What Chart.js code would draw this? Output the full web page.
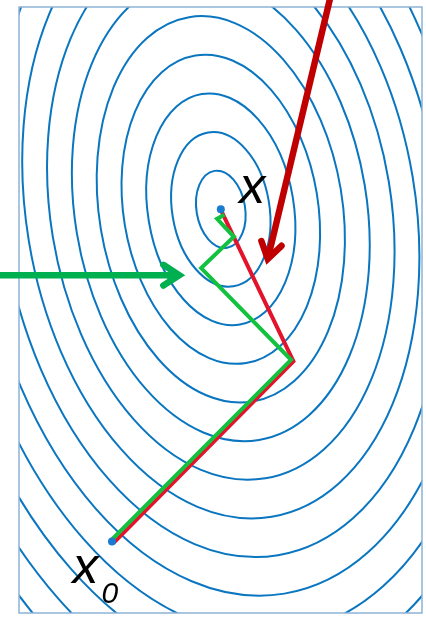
<!DOCTYPE html>
<html>
<head>
<meta charset="utf-8">
<script src="https://cdn.jsdelivr.net/npm/chart.js@4/dist/chart.umd.min.js"></script>
<style>
  html, body { margin: 0; padding: 0; background: #fff; overflow: hidden; }
  canvas { display: block; }
</style>
</head>
<body>
<canvas id="c" width="426" height="617"></canvas>
<script>
// Quadratic bowl: level sets are tilted, concentric ellipses about the minimiser
const minimiser = [2.003, 3.997];
const contourLevels = [1, 2, 3, 4, 5, 6, 7, 8, 9, 10, 11, 12, 13, 14, 15];
const semiMinorPerLevel = 0.2414;
const semiMajorPerLevel = 0.3857;
const tiltDegrees = 9.4; // major axis leans left at the top

// Steepest-descent iterates (zig-zag)
const sdX = [0.916, 2.700, 1.808, 2.133, 1.966, 2.039];
const sdY = [0.720, 2.507, 3.415, 3.725, 3.903, 3.943];

// Conjugate-gradient iterates (two steps)
const cgX = [0.941, 2.724, 2.003];
const cgY = [0.696, 2.492, 3.992];

// Start point x0 and solution x
const markerX = [0.923, 2.003];
const markerY = [0.708, 3.997];

// Pointer arrows: [tail, head] in plot units
const greenArrowX = [-0.25, 1.591];
const greenArrowY = [3.345, 3.345];
const redArrowX = [3.098, 2.469];
const redArrowY = [6.128, 3.506];

// Labels anchored at their baseline-left corner
const labelText = ['x', 'x', '0'];
const labelX = [2.187, 0.532, 0.818];
const labelY = [4.055, 0.296, 0.099];

const toPoints = (xs, ys) => xs.map((v, i) => ({ x: v, y: ys[i] }));

const contourPlugin = {
  id: 'contours',
  beforeDatasetsDraw(chart) {
    const { ctx, chartArea: a, scales: { x, y } } = chart;
    const cx = x.getPixelForValue(minimiser[0]);
    const cy = y.getPixelForValue(minimiser[1]);
    const ux = Math.abs(x.getPixelForValue(1) - x.getPixelForValue(0));
    const uy = Math.abs(y.getPixelForValue(1) - y.getPixelForValue(0));
    ctx.save();
    ctx.beginPath();
    ctx.rect(a.left, a.top, a.right - a.left, a.bottom - a.top);
    ctx.clip();
    ctx.strokeStyle = '#0a76c0';
    ctx.lineWidth = 2;
    for (const k of contourLevels) {
      ctx.beginPath();
      ctx.ellipse(cx, cy, k * semiMinorPerLevel * ux, k * semiMajorPerLevel * uy,
                  -tiltDegrees * Math.PI / 180, 0, 2 * Math.PI);
      ctx.stroke();
    }
    ctx.restore();
    ctx.save();
    ctx.strokeStyle = '#8db3d6';
    ctx.lineWidth = 1.5;
    ctx.strokeRect(a.left, a.top, a.right - a.left, a.bottom - a.top);
    ctx.restore();
  }
};

function drawArrow(ctx, x0, y0, x1, y1, color) {
  const ang = Math.atan2(y1 - y0, x1 - x0);
  const L = 19, spread = 33 * Math.PI / 180;
  ctx.save();
  ctx.strokeStyle = color;
  ctx.lineWidth = 6.5;
  ctx.lineCap = 'butt';
  ctx.beginPath();
  ctx.moveTo(x0, y0);
  ctx.lineTo(x1, y1);
  ctx.stroke();
  ctx.lineCap = 'round';
  ctx.lineJoin = 'miter';
  ctx.beginPath();
  ctx.moveTo(x1 - L * Math.cos(ang - spread), y1 - L * Math.sin(ang - spread));
  ctx.lineTo(x1, y1);
  ctx.lineTo(x1 - L * Math.cos(ang + spread), y1 - L * Math.sin(ang + spread));
  ctx.stroke();
  ctx.restore();
}

const overlayPlugin = {
  id: 'overlay',
  afterDraw(chart) {
    const { ctx, scales: { x, y } } = chart;
    drawArrow(ctx,
      x.getPixelForValue(greenArrowX[0]), y.getPixelForValue(greenArrowY[0]),
      x.getPixelForValue(greenArrowX[1]), y.getPixelForValue(greenArrowY[1]), '#00b050');
    drawArrow(ctx,
      x.getPixelForValue(redArrowX[0]), y.getPixelForValue(redArrowY[0]),
      x.getPixelForValue(redArrowX[1]), y.getPixelForValue(redArrowY[1]), '#c00000');

    ctx.save();
    ctx.fillStyle = '#000';
    ctx.textAlign = 'left';
    ctx.textBaseline = 'alphabetic';
    labelText.forEach((t, i) => {
      ctx.font = (t === '0' ? 'italic 30px' : 'italic 52px') + ' "Liberation Sans", Arial, sans-serif';
      ctx.fillText(t, x.getPixelForValue(labelX[i]), y.getPixelForValue(labelY[i]));
    });
    ctx.restore();
  }
};

new Chart(document.getElementById('c'), {
  type: 'scatter',
  data: {
    datasets: [
      {
        label: 'x0, x',
        data: toPoints(markerX, markerY),
        pointRadius: 4,
        pointBackgroundColor: '#1a7bd0',
        pointBorderWidth: 0,
        showLine: false,
        order: 0
      },
      {
        label: 'Steepest descent',
        data: toPoints(sdX, sdY),
        showLine: true,
        borderColor: '#12c23e',
        borderWidth: 4,
        borderJoinStyle: 'miter',
        pointRadius: 0,
        order: 1
      },
      {
        label: 'Conjugate gradient',
        data: toPoints(cgX, cgY),
        showLine: true,
        borderColor: '#e3132c',
        borderWidth: 4,
        borderJoinStyle: 'miter',
        pointRadius: 0,
        order: 2
      }
    ]
  },
  options: {
    responsive: false,
    animation: false,
    devicePixelRatio: 1,
    layout: { padding: { left: 19, top: 7, right: 1, bottom: 2 } },
    plugins: { legend: { display: false }, tooltip: { enabled: false } },
    scales: {
      x: { type: 'linear', min: 0, max: 4, display: false },
      y: { type: 'linear', min: 0, max: 6, display: false }
    }
  },
  plugins: [contourPlugin, overlayPlugin]
});
</script>
</body>
</html>
